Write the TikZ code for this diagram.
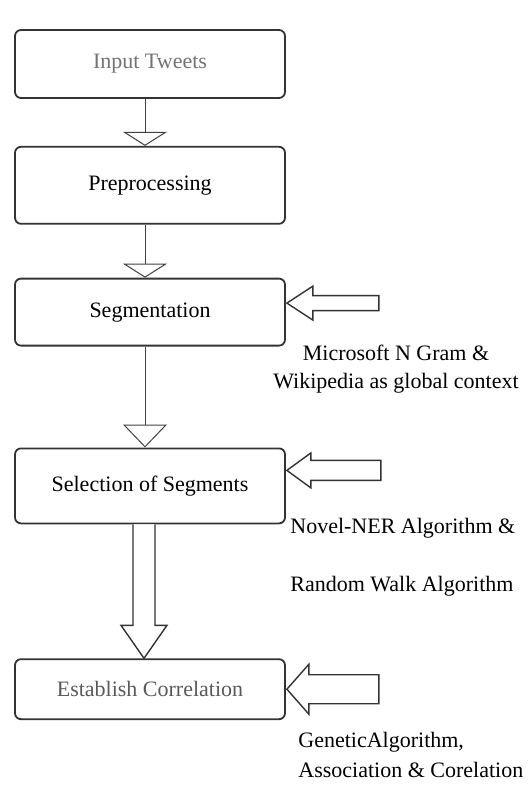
\documentclass[tikz,border=0pt]{standalone}
\usepackage{fontspec}
\setmainfont{Liberation Serif}
\usetikzlibrary{positioning,arrows.meta}
\begin{document}
\begin{tikzpicture}[
        stage/.style={rectangle, draw=black!80, minimum width=135pt, rounded corners=3pt, font=\fontsize{11}{14}\selectfont, line width=0.9pt, inner sep=0pt},
        flow/.style={-{Triangle[open, width=22pt, length=7pt]}, black!75, line width=0.5pt},
        blockarrow/.style={draw=black!80, fill=white, line width=0.7pt, line join=miter},
        note/.style={font=\fontsize{11}{14}\selectfont, align=left, inner sep=0pt}
    ]
        \useasboundingbox (0,0) rectangle (264pt,-393pt);

        % Stages
        \node[stage, minimum height=34pt, text=black!55] (input) at (75pt,-32pt) {Input Tweets};
        \node[stage, minimum height=38.5pt, below=23.5pt of input] (prep) {Preprocessing};
        \node[stage, minimum height=33.5pt, below=26.5pt of prep] (seg) {Segmentation};
        \node[stage, minimum height=37.5pt, below=50.5pt of seg] (sel) {Selection of Segments};
        \node[stage, minimum height=30pt, below=67pt of sel, text=black!65] (est) {Establish Correlation};

        % Side notes
        \node[note, align=center] (ngram) at (198pt,-184.5pt) {Microsoft N Gram \&\\Wikipedia as global context};
        \node[note, anchor=west] (ner) at (145pt,-278.5pt) {Novel-NER Algorithm \&\\[15pt]Random Walk Algorithm};
        \node[note, anchor=west] (ga) at (149pt,-377.5pt) {GeneticAlgorithm,\\[1pt]Association \& Corelation};

        % Arrows
        \draw[flow] ([xshift=-2.5pt]input.south) -- ([xshift=-2.5pt]prep.north);
        \draw[flow] ([xshift=-2.5pt]prep.south) -- ([xshift=-2.5pt]seg.north);
        \draw[flow, -{Triangle[open, width=22pt, length=11.5pt]}] ([xshift=-2.5pt]seg.south) -- ([xshift=-2.5pt]sel.north);
        \draw[blockarrow] ([xshift=-8.5pt]sel.south) -- ([xshift=-8.5pt,yshift=16.5pt]est.north)
            -- ([xshift=-14.5pt,yshift=16.5pt]est.north) -- ([xshift=-3pt]est.north)
            -- ([xshift=8.5pt,yshift=16.5pt]est.north) -- ([xshift=2.5pt,yshift=16.5pt]est.north)
            -- ([xshift=2.5pt]sel.south);

        % Block arrows from the side
        \draw[blockarrow] ([xshift=.5pt,yshift=4.5pt]seg.east) -- ++(13pt,8.5pt) -- ++(0,-4.75pt) -- ++(33pt,0)
            -- ++(0,-7.5pt) -- ++(-33pt,0) -- ++(0,-4.75pt) -- cycle;
        \draw[blockarrow] ([xshift=.5pt,yshift=7.75pt]sel.east) -- ++(12pt,8.75pt) -- ++(0,-3.75pt) -- ++(35pt,0)
            -- ++(0,-10pt) -- ++(-35pt,0) -- ++(0,-3.75pt) -- cycle;
        \draw[blockarrow] ([xshift=.5pt]est.east) -- ++(11pt,12.5pt) -- ++(0,-5.25pt) -- ++(35pt,0)
            -- ++(0,-14.5pt) -- ++(-35pt,0) -- ++(0,-5.25pt) -- cycle;
    \end{tikzpicture}
\end{document}
